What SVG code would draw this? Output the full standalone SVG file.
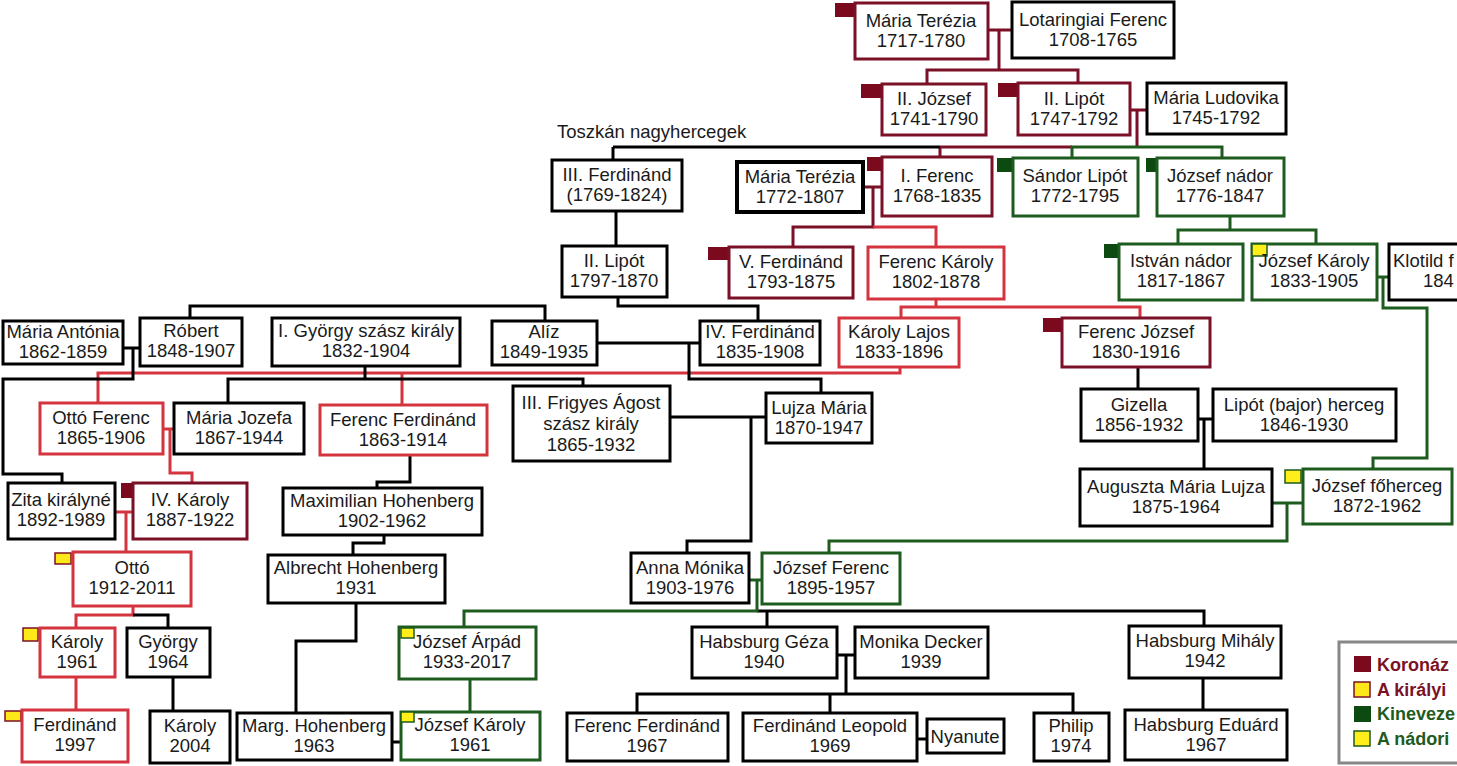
<svg xmlns="http://www.w3.org/2000/svg" width="1457" height="766" viewBox="0 0 1457 766">
<style>
.n{fill:#fff;stroke-width:3}
.bk{stroke:#000}
.cr{stroke:#7B1126}
.rd{stroke:#D4343E}
.gr{stroke:#1E5B1E}
.t{font-family:"Liberation Sans",Arial,sans-serif;font-size:18.5px;fill:#1a1a1a;text-anchor:middle}
.sc{fill:#7B0A1E}
.sg{fill:#0D4A12}
.yr{fill:#FFE81A;stroke:#7B1126;stroke-width:1.5}
.yg{fill:#FFEE1A;stroke:#1E5B1E;stroke-width:1.5}
.c{fill:none;stroke-width:3}
.lt{font-family:"Liberation Sans",Arial,sans-serif;font-size:18px;font-weight:bold}
</style>
<rect width="1457" height="766" fill="#fff"/>
<g id="connectors">
<g class="c cr">
<path d="M988,30 H1012 M999,30 V70 M927,84 V70 H1078 V83"/>
<path d="M1130,110 H1147 M1137,110 V147 M940,147 H1072 M940,147 V157"/>
<path d="M863,187 H882 M873,187 V227 H793 V247"/>
</g>
<g class="c rd">
<path d="M873,227 H936 V247"/>
<path d="M936,299 V307 M901,318 V307 H1140 V318"/>
<path d="M900,367 V373 H98 V403 M402,373 V405"/>
<path d="M163,429 H174 M170,429 V473 H192 V483"/>
<path d="M115,512 H133 M126,512 V552"/>
<path d="M133,606 V615 H76 V628 M76,677 V710"/>
</g>
<g class="c bk">
<path d="M613,147 H940 M613,147 V160 M616,211 V246"/>
<path d="M618,297 V306 H758 V321 M190,318 V306 H545 V321"/>
<path d="M123,348 H140 M133,348 V379 H3 V474 H62 V483"/>
<path d="M365,366 V379 M228,403 V379 H583 V386"/>
<path d="M597,343 H700 M689,343 V379 H821 V393"/>
<path d="M670,417 H766 M751,417 V541 H687 V553"/>
<path d="M410,455 V482 H377 V488 M384,535 V543 H353 V555 M356,603 V641 H296 V713 M392,742 H401"/>
<path d="M133,615 H168 V628 M173,677 V711"/>
<path d="M1138,367 V389 M1198,419 H1213 M1204,419 V469"/>
<path d="M757,611 H1204 V626 M767,611 V627 M1203,678 V710"/>
<path d="M837,655 H855 M846,655 V694 M637,713 V694 H1073 V713 M830,694 V713 M917,739 H927"/>
</g>
<g class="c gr">
<path d="M1072,158 V147 H1222 V158"/>
<path d="M1230,216 V230 M1178,244 V230 H1316 V244"/>
<path d="M1377,277 H1389 M1383,277 V308 H1427 V458 H1373 V469"/>
<path d="M1272,503 H1303 M1287,503 V541 H829 V553"/>
<path d="M749,580 H762 M757,580 V611 H464 V627 M470,679 V712"/>
</g>
</g>

<g id="maria-terezia"><rect class="sc" x="835" y="3" width="20" height="14"/><rect class="n cr" x="855" y="3" width="133" height="56"/><text class="t" x="921" y="27">Mária Terézia<tspan x="921" dy="20">1717-1780</tspan></text></g>
<g id="lotaringiai-ferenc"><rect class="n bk" x="1012" y="2" width="162" height="56"/><text class="t" x="1093" y="26">Lotaringiai Ferenc<tspan x="1093" dy="20">1708-1765</tspan></text></g>
<g id="ii-jozsef"><rect class="sc" x="861" y="84" width="21" height="14"/><rect class="n cr" x="882" y="84" width="104" height="51"/><text class="t" x="934" y="105">II. József<tspan x="934" dy="20">1741-1790</tspan></text></g>
<g id="ii-lipot"><rect class="sc" x="998" y="83" width="20" height="14"/><rect class="n cr" x="1018" y="83" width="112" height="52"/><text class="t" x="1074" y="105">II. Lipót<tspan x="1074" dy="20">1747-1792</tspan></text></g>
<g id="maria-ludovika"><rect class="n bk" x="1147" y="83" width="139" height="51"/><text class="t" x="1216" y="104">Mária Ludovika<tspan x="1216" dy="20">1745-1792</tspan></text></g>
<text class="t" x="557" y="138" style="text-anchor:start">Toszkán nagyhercegek</text>
<g id="iii-ferdinand"><rect class="n bk" x="552" y="160" width="130" height="51"/><text class="t" x="617" y="181">III. Ferdinánd<tspan x="617" dy="20">(1769-1824)</tspan></text></g>
<g id="maria-terezia-2"><rect class="n bk" x="737" y="162" width="126" height="50" style="stroke-width:4"/><text class="t" x="800" y="183">Mária Terézia<tspan x="800" dy="20">1772-1807</tspan></text></g>
<g id="i-ferenc"><rect class="sc" x="867" y="157" width="15" height="14"/><rect class="n cr" x="882" y="157" width="110" height="59"/><text class="t" x="937" y="182">I. Ferenc<tspan x="937" dy="20">1768-1835</tspan></text></g>
<g id="sandor-lipot"><rect class="sg" x="997" y="158" width="16" height="14"/><rect class="n gr" x="1013" y="158" width="125" height="58"/><text class="t" x="1075" y="182">Sándor Lipót<tspan x="1075" dy="20">1772-1795</tspan></text></g>
<g id="jozsef-nador"><rect class="sg" x="1146" y="158" width="11" height="14"/><rect class="n gr" x="1157" y="158" width="127" height="58"/><text class="t" x="1220" y="182">József nádor<tspan x="1220" dy="20">1776-1847</tspan></text></g>
<g id="ii-lipot-toszkan"><rect class="n bk" x="562" y="246" width="105" height="51"/><text class="t" x="614" y="267">II. Lipót<tspan x="614" dy="20">1797-1870</tspan></text></g>
<g id="v-ferdinand"><rect class="sc" x="708" y="247" width="21" height="13"/><rect class="n cr" x="729" y="247" width="124" height="51"/><text class="t" x="791" y="268">V. Ferdinánd<tspan x="791" dy="20">1793-1875</tspan></text></g>
<g id="ferenc-karoly"><rect class="n rd" x="868" y="247" width="136" height="52"/><text class="t" x="936" y="268">Ferenc Károly<tspan x="936" dy="20">1802-1878</tspan></text></g>
<g id="istvan-nador"><rect class="sg" x="1104" y="244" width="15" height="14"/><rect class="n gr" x="1119" y="244" width="124" height="56"/><text class="t" x="1181" y="267">István nádor<tspan x="1181" dy="20">1817-1867</tspan></text></g>
<g id="jozsef-karoly"><rect class="n gr" x="1252" y="244" width="125" height="56"/><rect class="yg" x="1252" y="244" width="15" height="12"/><text class="t" x="1314" y="267">József Károly<tspan x="1314" dy="20">1833-1905</tspan></text></g>
<g id="klotild"><rect class="n bk" x="1389" y="244" width="100" height="56"/><text class="t" x="1393" y="267" style="text-anchor:start">Klotild f</text><text class="t" x="1423" y="287" style="text-anchor:start">184</text></g>
<g id="maria-antonia"><rect class="n bk" x="3" y="321" width="120" height="43"/><text class="t" x="63" y="338">Mária Antónia<tspan x="63" dy="20">1862-1859</tspan></text></g>
<g id="robert"><rect class="n bk" x="140" y="318" width="102" height="48"/><text class="t" x="191" y="337">Róbert<tspan x="191" dy="20">1848-1907</tspan></text></g>
<g id="i-gyorgy"><rect class="n bk" x="272" y="318" width="188" height="48"/><text class="t" x="366" y="337">I. György szász király<tspan x="366" dy="20">1832-1904</tspan></text></g>
<g id="aliz"><rect class="n bk" x="492" y="321" width="105" height="44"/><text class="t" x="544" y="338">Alíz<tspan x="544" dy="20">1849-1935</tspan></text></g>
<g id="iv-ferdinand"><rect class="n bk" x="700" y="321" width="120" height="44"/><text class="t" x="760" y="338">IV. Ferdinánd<tspan x="760" dy="20">1835-1908</tspan></text></g>
<g id="karoly-lajos"><rect class="n rd" x="839" y="318" width="120" height="49"/><text class="t" x="899" y="338">Károly Lajos<tspan x="899" dy="20">1833-1896</tspan></text></g>
<g id="ferenc-jozsef"><rect class="sc" x="1043" y="318" width="19" height="14"/><rect class="n cr" x="1062" y="318" width="148" height="49"/><text class="t" x="1136" y="338">Ferenc József<tspan x="1136" dy="20">1830-1916</tspan></text></g>
<g id="otto-ferenc"><rect class="n rd" x="40" y="403" width="123" height="51"/><text class="t" x="101" y="424">Ottó Ferenc<tspan x="101" dy="20">1865-1906</tspan></text></g>
<g id="maria-jozefa"><rect class="n bk" x="174" y="403" width="130" height="51"/><text class="t" x="239" y="424">Mária Jozefa<tspan x="239" dy="20">1867-1944</tspan></text></g>
<g id="ferenc-ferdinand"><rect class="n rd" x="320" y="405" width="167" height="50"/><text class="t" x="403" y="426">Ferenc Ferdinánd<tspan x="403" dy="20">1863-1914</tspan></text></g>
<g id="iii-frigyes-agost"><rect class="n bk" x="513" y="386" width="157" height="75"/><text class="t" x="591" y="409">III. Frigyes Ágost<tspan x="591" dy="21">szász király</tspan><tspan x="591" dy="21">1865-1932</tspan></text></g>
<g id="lujza-maria"><rect class="n bk" x="766" y="393" width="106" height="50"/><text class="t" x="819" y="414">Lujza Mária<tspan x="819" dy="20">1870-1947</tspan></text></g>
<g id="gizella"><rect class="n bk" x="1081" y="389" width="117" height="52"/><text class="t" x="1139" y="411">Gizella<tspan x="1139" dy="20">1856-1932</tspan></text></g>
<g id="lipot-bajor"><rect class="n bk" x="1213" y="389" width="183" height="52"/><text class="t" x="1304" y="411">Lipót (bajor) herceg<tspan x="1304" dy="20">1846-1930</tspan></text></g>
<g id="auguszta"><rect class="n bk" x="1080" y="469" width="192" height="57"/><text class="t" x="1176" y="493">Auguszta Mária Lujza<tspan x="1176" dy="20">1875-1964</tspan></text></g>
<g id="jozsef-foherceg"><rect class="yg" x="1285" y="470" width="16" height="13"/><rect class="n gr" x="1303" y="469" width="149" height="55"/><text class="t" x="1377" y="492">József főherceg<tspan x="1377" dy="20">1872-1962</tspan></text></g>
<g id="zita"><rect class="n bk" x="8" y="483" width="107" height="56"/><text class="t" x="61" y="506">Zita királyné<tspan x="61" dy="20">1892-1989</tspan></text></g>
<g id="iv-karoly"><rect class="sc" x="121" y="483" width="12" height="15"/><rect class="n cr" x="133" y="483" width="114" height="56"/><text class="t" x="190" y="506">IV. Károly<tspan x="190" dy="20">1887-1922</tspan></text></g>
<g id="maximilian-hohenberg"><rect class="n bk" x="283" y="488" width="199" height="47"/><text class="t" x="382" y="507">Maximilian Hohenberg<tspan x="382" dy="20">1902-1962</tspan></text></g>
<g id="otto"><rect class="yr" x="55" y="553" width="16" height="11"/><rect class="n rd" x="73" y="552" width="118" height="54"/><text class="t" x="132" y="574">Ottó<tspan x="132" dy="20">1912-2011</tspan></text></g>
<g id="albrecht-hohenberg"><rect class="n bk" x="268" y="555" width="177" height="48"/><text class="t" x="356" y="574">Albrecht Hohenberg<tspan x="356" dy="20">1931</tspan></text></g>
<g id="anna-monika"><rect class="n bk" x="631" y="553" width="118" height="50"/><text class="t" x="690" y="574">Anna Mónika<tspan x="690" dy="20">1903-1976</tspan></text></g>
<g id="jozsef-ferenc"><rect class="n gr" x="762" y="553" width="138" height="51"/><text class="t" x="831" y="574">József Ferenc<tspan x="831" dy="20">1895-1957</tspan></text></g>
<g id="karoly-1961"><rect class="yr" x="23" y="628" width="15" height="13"/><rect class="n rd" x="40" y="628" width="75" height="49"/><text class="t" x="77" y="648">Károly<tspan x="77" dy="20">1961</tspan></text></g>
<g id="gyorgy"><rect class="n bk" x="127" y="628" width="83" height="49"/><text class="t" x="168" y="648">György<tspan x="168" dy="20">1964</tspan></text></g>
<g id="jozsef-arpad"><rect class="n gr" x="399" y="627" width="137" height="52"/><rect class="yg" x="401" y="628" width="13" height="10"/><text class="t" x="467" y="648">József Árpád<tspan x="467" dy="20">1933-2017</tspan></text></g>
<g id="habsburg-geza"><rect class="n bk" x="692" y="627" width="145" height="51"/><text class="t" x="764" y="648">Habsburg Géza<tspan x="764" dy="20">1940</tspan></text></g>
<g id="monika-decker"><rect class="n bk" x="855" y="627" width="133" height="51"/><text class="t" x="921" y="648">Monika Decker<tspan x="921" dy="20">1939</tspan></text></g>
<g id="habsburg-mihaly"><rect class="n bk" x="1129" y="626" width="152" height="52"/><text class="t" x="1205" y="647">Habsburg Mihály<tspan x="1205" dy="20">1942</tspan></text></g>
<g id="ferdinand-1997"><rect class="yr" x="5" y="711" width="16" height="10"/><rect class="n rd" x="22" y="710" width="106" height="52"/><text class="t" x="75" y="731">Ferdinánd<tspan x="75" dy="20">1997</tspan></text></g>
<g id="karoly-2004"><rect class="n bk" x="150" y="711" width="80" height="52"/><text class="t" x="190" y="732">Károly<tspan x="190" dy="20">2004</tspan></text></g>
<g id="marg-hohenberg"><rect class="n bk" x="237" y="713" width="155" height="47"/><text class="t" x="314" y="732">Marg. Hohenberg<tspan x="314" dy="20">1963</tspan></text></g>
<g id="jozsef-karoly-1961"><rect class="n gr" x="401" y="712" width="139" height="48"/><rect class="yg" x="401" y="712" width="13" height="10"/><text class="t" x="470" y="731">József Károly<tspan x="470" dy="20">1961</tspan></text></g>
<g id="ferenc-ferdinand-1967"><rect class="n bk" x="567" y="713" width="161" height="48"/><text class="t" x="647" y="732">Ferenc Ferdinánd<tspan x="647" dy="20">1967</tspan></text></g>
<g id="ferdinand-leopold"><rect class="n bk" x="743" y="713" width="174" height="48"/><text class="t" x="830" y="732">Ferdinánd Leopold<tspan x="830" dy="20">1969</tspan></text></g>
<g id="nyanute"><rect class="n bk" x="927" y="719" width="77" height="34"/><text class="t" x="965" y="743">Nyanute</text></g>
<g id="philip"><rect class="n bk" x="1034" y="713" width="75" height="48"/><text class="t" x="1071" y="732">Philip<tspan x="1071" dy="20">1974</tspan></text></g>
<g id="habsburg-eduard"><rect class="n bk" x="1125" y="710" width="162" height="50"/><text class="t" x="1206" y="731">Habsburg Eduárd<tspan x="1206" dy="20">1967</tspan></text></g>
<g id="legend">
<rect x="1339" y="642" width="140" height="121" fill="#fff" stroke="#888" stroke-width="3"/>
<rect x="1354" y="656" width="17" height="16" class="sc"/>
<text class="lt" x="1377" y="671" fill="#7B1126">Koronáz</text>
<rect x="1354" y="682" width="16" height="15" class="yr"/>
<text class="lt" x="1377" y="696" fill="#7B1126">A királyi</text>
<rect x="1354" y="706" width="17" height="16" class="sg"/>
<text class="lt" x="1377" y="720" fill="#1E5B1E">Kineveze</text>
<rect x="1354" y="731" width="16" height="15" class="yg"/>
<text class="lt" x="1377" y="745" fill="#1E5B1E">A nádori</text>
</g>
</svg>
